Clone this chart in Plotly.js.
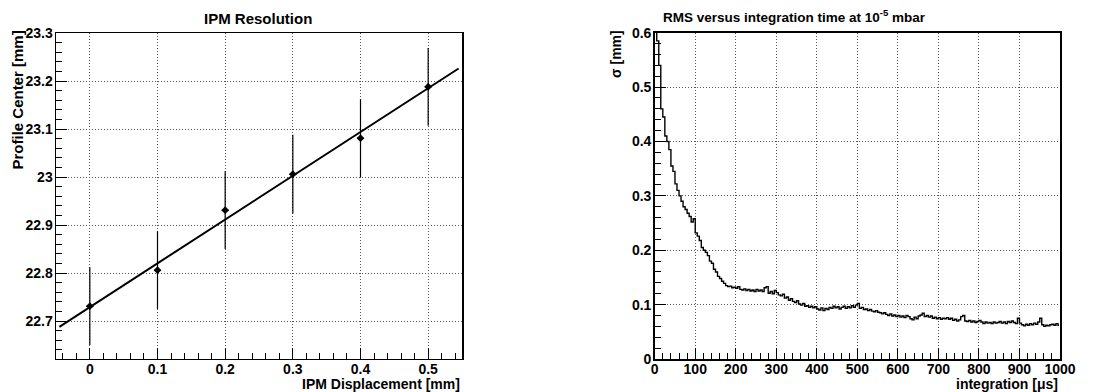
<!DOCTYPE html>
<html>
<head>
<meta charset="utf-8">
<script src="https://cdn.plot.ly/plotly-3.0.1.min.js"></script>
<style>html,body{margin:0;padding:0;background:#fff;}#plot{width:1116px;height:392px;}</style>
</head>
<body>
<div id="plot"></div>
<script>
// ---- Left panel: IPM Resolution ----
const ipmDisp = [0, 0.1, 0.2, 0.3, 0.4, 0.5];
const ipmCenter = [22.731, 22.806, 22.931, 23.006, 23.081, 23.188];
const ipmErrY = [0.081, 0.081, 0.081, 0.082, 0.081, 0.081];
const ipmErrX = [0.005, 0.005, 0.005, 0.005, 0.005, 0.005];
const fitX = [-0.045, 0.545];
const fitY = [22.688, 23.226];
const leftTicksX = [0, 0.1, 0.2, 0.3, 0.4, 0.5];
const leftTicksY = [22.7, 22.8, 22.9, 23, 23.1, 23.2, 23.3];

// ---- Right panel: RMS vs integration time (5 µs bins, 0..1000 µs) ----
const binWidth = 5;
const rmsSigma = [
0.66,0.585,0.54,0.46,0.445,0.41,0.40,0.385,0.355,0.345,
0.322,0.31,0.30,0.29,0.28,0.275,0.268,0.262,0.252,0.258,
0.232,0.226,0.218,0.205,0.20,0.196,0.19,0.18,0.176,0.165,
0.16,0.152,0.148,0.143,0.139,0.135,0.133,0.134,0.131,0.132,
0.130,0.133,0.128,0.127,0.129,0.126,0.128,0.125,0.127,0.124,
0.128,0.125,0.127,0.124,0.131,0.133,0.121,0.124,0.120,0.126,
0.122,0.118,0.116,0.119,0.112,0.114,0.108,0.111,0.106,0.104,
0.107,0.101,0.099,0.102,0.097,0.098,0.095,0.097,0.094,0.096,
0.092,0.090,0.094,0.089,0.093,0.091,0.095,0.093,0.097,0.094,
0.096,0.092,0.095,0.097,0.093,0.096,0.094,0.098,0.095,0.099,
0.102,0.093,0.095,0.091,0.092,0.089,0.091,0.088,0.087,0.089,
0.086,0.085,0.083,0.085,0.082,0.080,0.083,0.079,0.081,0.078,
0.080,0.077,0.079,0.076,0.080,0.078,0.074,0.072,0.077,0.074,
0.079,0.081,0.084,0.078,0.080,0.077,0.079,0.075,0.077,0.074,
0.076,0.073,0.075,0.074,0.076,0.073,0.075,0.071,0.073,0.070,
0.072,0.078,0.080,0.070,0.069,0.071,0.068,0.070,0.067,0.069,
0.071,0.068,0.065,0.068,0.066,0.067,0.065,0.068,0.066,0.067,
0.069,0.066,0.068,0.065,0.069,0.067,0.070,0.067,0.065,0.075,
0.066,0.063,0.061,0.064,0.062,0.065,0.063,0.066,0.064,0.068,
0.075,0.063,0.060,0.062,0.061,0.063,0.064,0.062,0.065,0.062
];
const rightTicksX = [0,100,200,300,400,500,600,700,800,900,1000];
const rightTicksY = [0,0.1,0.2,0.3,0.4,0.5,0.6];

const FONT = 'Liberation Sans, Arial, Helvetica, sans-serif';
const tickFont = {family: FONT, size: 14, color: '#000', weight: 'bold'};

function axisBase(domain, range, tickvals, minorDtick, anchor, isX) {
  return {
    domain: domain, range: range, anchor: anchor,
    tickmode: 'array', tickvals: tickvals,
    ticks: 'inside', ticklen: 11, tickwidth: 1, tickcolor: '#000',
    ticklabelstandoff: isX ? -3 : -1,
    minor: {ticks: 'inside', ticklen: 6, tickwidth: 1, tickcolor: '#000', dtick: minorDtick, tick0: 0, showgrid: false},
    showgrid: true, gridcolor: '#555', griddash: '1px,2px', gridwidth: 1,
    showline: true, linecolor: '#000', linewidth: 1.5, mirror: true,
    zeroline: false, tickfont: tickFont, fixedrange: true
  };
}

const traces = [
  {
    x: fitX, y: fitY, xaxis: 'x', yaxis: 'y', mode: 'lines',
    line: {color: '#000', width: 2}, hoverinfo: 'skip', showlegend: false
  },
  {
    x: ipmDisp, y: ipmCenter, xaxis: 'x', yaxis: 'y', mode: 'markers',
    marker: {color: '#000', size: 6, symbol: 'diamond'},
    error_y: {type: 'data', array: ipmErrY, visible: true, color: '#000', thickness: 1.2, width: 0},
    error_x: {type: 'data', array: ipmErrX, visible: true, color: '#000', thickness: 1.5, width: 0},
    showlegend: false
  },
  {
    y: rmsSigma, x0: binWidth / 2, dx: binWidth, xaxis: 'x2', yaxis: 'y2', mode: 'lines',
    line: {color: '#000', width: 1.4, shape: 'hvh'}, showlegend: false
  }
];

const W = 1116, H = 392;
const px = v => v / W, py = v => 1 - v / H;

const layout = {
  width: W, height: H,
  margin: {l: 0, r: 0, t: 0, b: 0},
  paper_bgcolor: '#fff', plot_bgcolor: '#fff',
  showlegend: false,
  xaxis: axisBase([px(56), px(462)], [-0.05, 0.55], leftTicksX, 0.02, 'y', true),
  yaxis: axisBase([py(358.5), py(33)], [22.622, 23.3], leftTicksY, 0.02, 'x', false),
  xaxis2: axisBase([px(654.7), px(1060)], [0, 1000], rightTicksX, 20, 'y2', true),
  yaxis2: axisBase([py(359), py(32.7)], [0, 0.6], rightTicksY, 0.02, 'x2', false),
  annotations: [
    {text: 'IPM Resolution', xref: 'paper', yref: 'paper', x: px(258), y: py(18),
     xanchor: 'center', yanchor: 'middle', showarrow: false,
     font: {family: FONT, size: 15, color: '#000', weight: 'bold'}},
    {text: 'Profile Center [mm]', xref: 'paper', yref: 'paper', x: px(17), y: py(29),
     xanchor: 'center', yanchor: 'top', textangle: -90, showarrow: false,
     font: {family: FONT, size: 15, color: '#000', weight: 'bold'}},
    {text: 'IPM Displacement [mm]', xref: 'paper', yref: 'paper', x: px(462), y: py(384),
     xanchor: 'right', yanchor: 'middle', showarrow: false,
     font: {family: FONT, size: 14, color: '#000', weight: 'bold'}},
    {text: 'RMS versus integration time at 10<sup>-5</sup> mbar', xref: 'paper', yref: 'paper', x: px(794), y: py(16),
     xanchor: 'center', yanchor: 'middle', showarrow: false,
     font: {family: FONT, size: 13.5, color: '#000', weight: 'bold'}},
    {text: 'σ [mm]', xref: 'paper', yref: 'paper', x: px(616), y: py(28),
     xanchor: 'center', yanchor: 'top', textangle: -90, showarrow: false,
     font: {family: FONT, size: 14, color: '#000', weight: 'bold'}},
    {text: 'integration [μs]', xref: 'paper', yref: 'paper', x: px(1060), y: py(384),
     xanchor: 'right', yanchor: 'middle', showarrow: false,
     font: {family: FONT, size: 14, color: '#000', weight: 'bold'}}
  ]
};

Plotly.newPlot('plot', traces, layout, {staticPlot: true, displayModeBar: false});
</script>
</body>
</html>
